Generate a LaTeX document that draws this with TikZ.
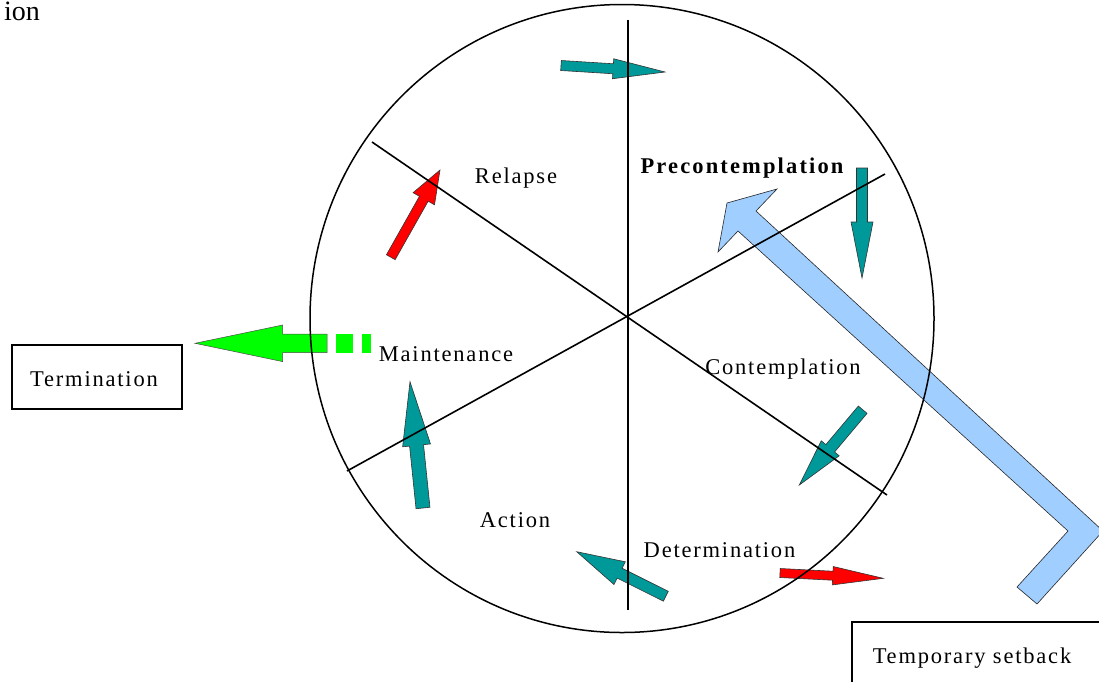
\documentclass[tikz,border=0pt]{standalone}
\usepackage{fontspec}
\setmainfont{Liberation Serif}
\newfontfamily\lbl{Liberation Serif}[LetterSpace=8]
\newfontfamily\lblb{Liberation Serif}[LetterSpace=9.5]
\usetikzlibrary{calc}
\definecolor{tealA}{RGB}{0,153,153}
\definecolor{redA}{RGB}{255,0,0}
\definecolor{greenA}{RGB}{0,255,0}
\definecolor{blueA}{RGB}{160,206,255}
\tikzset{
  lab/.style={font=\lbl\fontsize{22.5}{27}\selectfont, anchor=base, inner sep=0pt},
  boxA/.style={draw=black, line width=2.8pt, fill=white},
  spoke/.style={draw=black, line width=1.6pt},
  tealarrow/.style={fill=tealA, draw=black!80, line width=0.6pt},
  redarrow/.style={fill=redA, draw=black!80, line width=0.6pt},
  greenarrow/.style={fill=greenA, draw=black!70, line width=0.5pt},
  bluearrow/.style={fill=blueA, draw=black!85, line width=0.6pt, line join=miter},
}
% #1 tail, #2 tip, #3 shaft half width, #4 head length, #5 head half width, #6 style
\newcommand\blkarrow[6]{%
  \coordinate (ba-hb) at ($(#2)!#4pt!(#1)$);
  \path[#6] ($(#1)!#3pt!90:(#2)$) -- ($(ba-hb)!#3pt!90:(#2)$) -- ($(ba-hb)!#5pt!90:(#2)$)
    -- (#2) -- ($(ba-hb)!#5pt!-90:(#2)$) -- ($(ba-hb)!#3pt!-90:(#2)$) -- ($(#1)!#3pt!-90:(#2)$) -- cycle;
}
\begin{document}
\begin{tikzpicture}[x=1pt,y=-1pt]
\useasboundingbox (0,0) rectangle (1099,681);
\clip (0,0) rectangle (1099,681);

% big light-blue "temporary setback" arrow
\path[bluearrow] (727,203) -- (777,189) -- (756,211) -- (1103,531) -- (1037,604)
  -- (1017,587) -- (1068,531) -- (738,231) -- (718,252) -- cycle;

% teal arrows
\coordinate (t1s) at (561,65.5);   \coordinate (t1e) at (665,72);
\coordinate (t2s) at (862,168);    \coordinate (t2e) at (862,278);
\coordinate (t3s) at (862.7,409.7); \coordinate (t3e) at (799.3,485);
\coordinate (t4s) at (665.8,596.2); \coordinate (t4e) at (576.7,551.7);
\coordinate (t5s) at (423,508);    \coordinate (t5e) at (410,381.7);
\blkarrow{t1s}{t1e}{5}{52}{10}{tealarrow}
\blkarrow{t2s}{t2e}{5.5}{56}{11}{tealarrow}
\blkarrow{t3s}{t3e}{5.7}{48}{11.7}{tealarrow}
\blkarrow{t4s}{t4e}{5.5}{48}{12.7}{tealarrow}
\blkarrow{t5s}{t5e}{7}{64}{14}{tealarrow}

% red arrows
\coordinate (r1s) at (390.8,257.2); \coordinate (r1e) at (440,170);
\coordinate (r2s) at (780,573);     \coordinate (r2e) at (883.3,578.3);
\blkarrow{r1s}{r1e}{5}{33}{12.3}{redarrow}
\blkarrow{r2s}{r2e}{4.5}{50.6}{9.2}{redarrow}

% green arrow to termination
\coordinate (gs) at (327,343.3); \coordinate (ge) at (195,343.3);
\blkarrow{gs}{ge}{9.3}{87.7}{18.3}{greenarrow}
\path[fill=greenA] (336,334) rectangle (353,352.7);
\path[fill=greenA] (362,334) rectangle (371,352.7);

% circle and spokes
\draw[line width=1.5pt] (622,318.5) ellipse [x radius=312, y radius=314];
\coordinate (vtop) at (628,20);   \coordinate (vbot) at (628,610);
\coordinate (d1a) at (372,142);   \coordinate (d1b) at (887,495);
\coordinate (d2a) at (885,174);   \coordinate (d2b) at (347,471);
\draw[spoke, line width=2.3pt] (vtop) -- (vbot);
\draw[spoke] (d1a) -- (d1b);
\draw[spoke] (d2a) -- (d2b);

% stage labels
\node[lab] (relapse) at (516,183) {Relapse};
\node[lab, font=\lblb\fontsize{22.5}{27}\selectfont\bfseries] (precon) at (742,173) {Precontemplation};
\node[lab] (maint) at (446,361) {Maintenance};
\node[lab] (contemp) at (783,374.3) {Contemplation};
\node[lab] (action) at (515,527) {Action};
\node[lab] (determ) at (719.5,557.7) {Determination};

% boxes
\draw[boxA] (12,345) rectangle (182,409);
\node[lab] (term) at (94,386.7) {Termination};
\draw[boxA] (852,622) rectangle (1115,700);
\node[lab] (setback) at (972,663.3) {Temporary setback};

% caption fragment
\node[anchor=base east, inner sep=0pt, font=\fontsize{28}{32}\selectfont] (ion) at (40,20) {ion};
\end{tikzpicture}
\end{document}
